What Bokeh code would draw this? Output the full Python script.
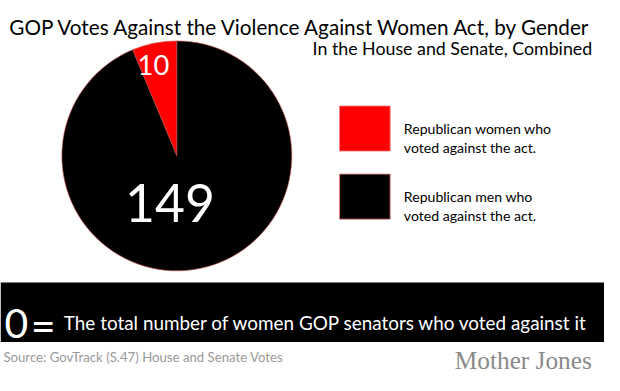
import math
from bokeh.plotting import figure
from bokeh.models import Range1d
from bokeh.core.properties import value
from bokeh.embed import file_html
from bokeh.resources import INLINE

# ---- data ----
categories = ["Republican women who voted against the act.", "Republican men who voted against the act."]
legend_lines = [["Republican women who", "voted against the act."],
                ["Republican men who", "voted against the act."]]
votes = [10, 149]
colors = ["#ff0000", "#000000"]
senators_women = 0

title = "GOP Votes Against the Violence Against Women Act, by Gender"
subtitle = "In the House and Senate,  Combined"
band_text = "The total number of women GOP senators who voted against it"
source = "Source:  GovTrack (S.47) House and Senate Votes"
brand = "Mother Jones"

# reference is 620x391; the figure is 604x375, so map reference pixels onto it
W, H = 604, 375
RW, RH = 620, 391
p = figure(width=W, height=H, output_backend="svg", toolbar_location=None,
           x_range=Range1d(0, RW), y_range=Range1d(0, RH),
           min_border=0, outline_line_color=None)
p.axis.visible = False
p.grid.visible = False
p.background_fill_color = "white"
p.border_fill_color = "white"

S = W / RW

def Y(ry):
    return RH - ry

def fs(px):
    return f"{px * S:.1f}px"

FONT = "Lato"

# title
p.text(x=[9], y=[Y(28)], text=[title], text_font=value(FONT), text_font_size=fs(21.2),
       text_color="#000000", text_baseline="alphabetic", text_align="left")
p.text(x=[612], y=[Y(50)], text=[subtitle], text_font=value(FONT), text_font_size=fs(18.3),
       text_color="#000000", text_baseline="alphabetic", text_align="right")

# pie
cx, cy, r = 181, Y(162), 118
total = sum(votes)
start = math.pi / 2
for v, c in zip(votes, colors):
    end = start + 2 * math.pi * v / total
    p.wedge(x=[cx], y=[cy], radius=r, start_angle=start, end_angle=end,
            fill_color=c, line_color="#d05050", line_width=0.6)
    start = end

# pie labels
p.text(x=[157], y=[Y(67)], text=[str(votes[0])], text_font=value(FONT), text_font_size=fs(28),
       text_color="white", text_baseline="middle", text_align="center")
p.text(x=[174], y=[Y(211)], text=[str(votes[1])], text_font=value(FONT), text_font_size=fs(53),
       text_color="white", text_baseline="middle", text_align="center")

# legend
sq_top = [110, 181]
for i in range(2):
    t = sq_top[i]
    p.quad(left=[348], right=[400], top=[Y(t)], bottom=[Y(t + 47)],
           fill_color=colors[i], line_color="#f08080", line_width=0.8)
    for j, line in enumerate(legend_lines[i]):
        p.text(x=[414], y=[Y(t + 23 + j * 20)], text=[line], text_font=value(FONT),
               text_font_size=fs(14.5), text_color="#000000",
               text_baseline="alphabetic", text_align="left")

# black band
p.quad(left=[0], right=[RW], top=[Y(294)], bottom=[Y(356)],
       fill_color="black", line_color=None)
p.text(x=[4], y=[Y(337)], text=[str(senators_women)], text_font=value(FONT),
       text_font_size=fs(42), text_color="white", text_baseline="alphabetic", text_align="left")
p.text(x=[31], y=[Y(338)], text=["="], text_font=value(FONT),
       text_font_size=fs(44), text_color="white", text_baseline="alphabetic", text_align="left")
p.text(x=[65], y=[Y(336)], text=[band_text], text_font=value(FONT),
       text_font_size=fs(19.4), text_color="white", text_baseline="alphabetic", text_align="left")

# footer
p.text(x=[3], y=[Y(372)], text=[source], text_font=value(FONT), text_font_size=fs(13.6),
       text_color="#999999", text_baseline="alphabetic", text_align="left")
p.text(x=[607], y=[Y(375)], text=[brand], text_font=value("Liberation Serif"),
       text_font_size=fs(26), text_color="#8a8a8a", text_baseline="alphabetic", text_align="right")

open("out.html", "w").write(file_html(p, INLINE))
